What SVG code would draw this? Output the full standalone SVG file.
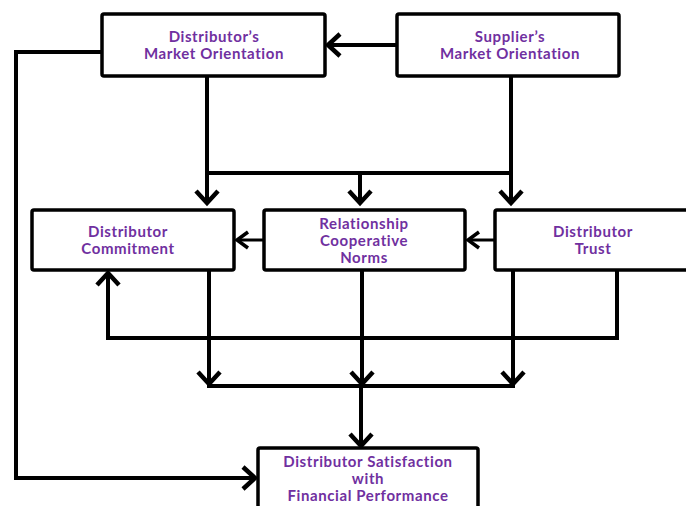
<svg xmlns="http://www.w3.org/2000/svg" width="686" height="506" viewBox="0 0 686 506">
<style>
.box{fill:#fff;stroke:#000;stroke-width:3.5}
.lbl{font-family:"Lato","Liberation Sans",sans-serif;font-weight:bold;font-size:15px;letter-spacing:0.6px;fill:#7030A0;text-anchor:middle}
.ln{fill:none;stroke:#000;stroke-width:4;stroke-linejoin:miter}
.big{marker-end:url(#ah)}
.sm{stroke-width:3;marker-end:url(#ahs)}
</style>
<defs>
<marker id="ah" markerUnits="userSpaceOnUse" markerWidth="30" markerHeight="30" refX="0" refY="0" orient="auto" overflow="visible">
<path d="M-12,-11 L0,0 L-12,11" fill="none" stroke="#000" stroke-width="4.5"/>
</marker>
<marker id="ahs" markerUnits="userSpaceOnUse" markerWidth="30" markerHeight="30" refX="0" refY="0" orient="auto" overflow="visible">
<path d="M-11,-8 L0,0 L-11,8" fill="none" stroke="#000" stroke-width="3.5"/>
</marker>
</defs>
<g id="connectors">
<path class="ln big" d="M396,45 H328"/>
<path class="ln big" d="M207,76 V203"/>
<path class="ln" d="M205,173 H513"/>
<path class="ln big" d="M360,173 V203"/>
<path class="ln big" d="M511,76 V203"/>
<path class="ln sm" d="M264,240 H237"/>
<path class="ln sm" d="M495,240 H468"/>
<path class="ln big" d="M209,270 V384"/>
<path class="ln big" d="M362,270 V384"/>
<path class="ln big" d="M513,270 V384"/>
<path class="ln" d="M207,386 H515"/>
<path class="ln big" d="M361,386 V446"/>
<path class="ln big" d="M617,270 V338 H108 V273"/>
<path class="ln big" d="M102,52 H16 V478 H255"/>
</g>
<g id="dist-mo">
<rect class="box" x="102" y="14" width="223" height="62" rx="2"/>
<text class="lbl" x="214" y="42">Distributor’s</text>
<text class="lbl" x="214" y="59">Market Orientation</text>
</g>
<g id="supp-mo">
<rect class="box" x="397" y="14" width="222" height="62" rx="2"/>
<text class="lbl" x="510" y="42">Supplier’s</text>
<text class="lbl" x="510" y="59">Market Orientation</text>
</g>
<g id="commitment">
<rect class="box" x="32" y="210" width="202" height="60" rx="2"/>
<text class="lbl" x="128" y="237">Distributor</text>
<text class="lbl" x="128" y="254">Commitment</text>
</g>
<g id="norms">
<rect class="box" x="264" y="210" width="201" height="60" rx="2"/>
<text class="lbl" x="364" y="229">Relationship</text>
<text class="lbl" x="364" y="246">Cooperative</text>
<text class="lbl" x="364" y="263">Norms</text>
</g>
<g id="trust">
<rect class="box" x="495" y="210" width="200" height="60" rx="2"/>
<text class="lbl" x="593" y="237">Distributor</text>
<text class="lbl" x="593" y="254">Trust</text>
</g>
<g id="satisfaction">
<rect class="box" x="258" y="448" width="220" height="70" rx="2"/>
<text class="lbl" x="368" y="467">Distributor Satisfaction</text>
<text class="lbl" x="368" y="484">with</text>
<text class="lbl" x="368" y="501">Financial Performance</text>
</g>
</svg>
